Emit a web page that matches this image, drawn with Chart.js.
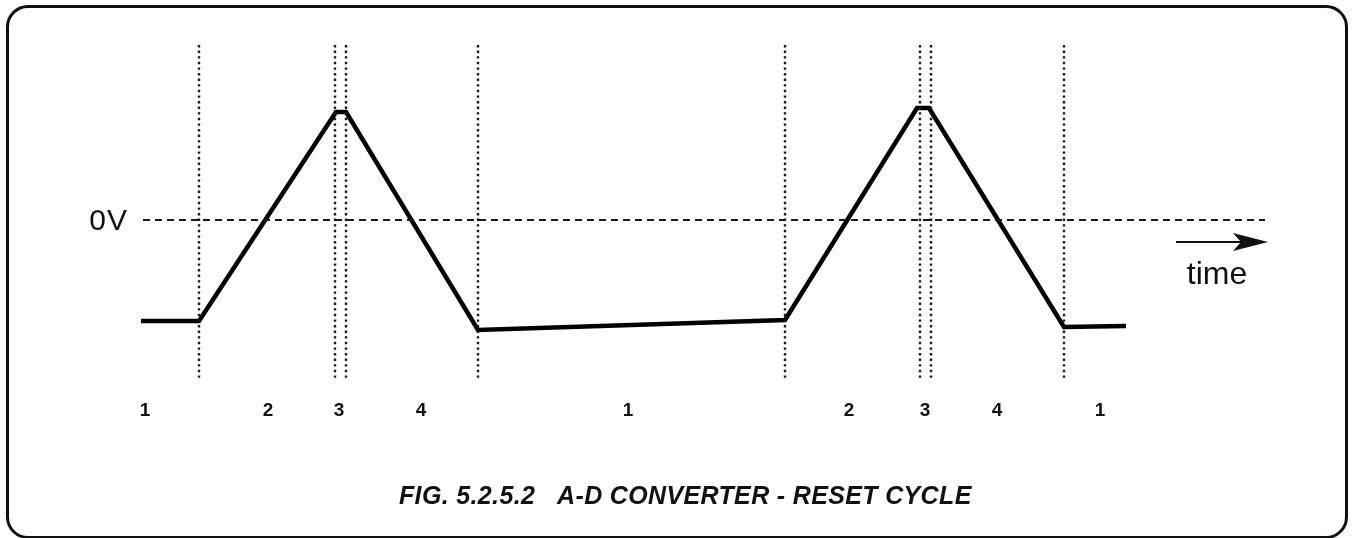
<!DOCTYPE html>
<html>
<head>
<meta charset="utf-8">
<title>A-D Converter - Reset Cycle</title>
<script src="https://cdn.jsdelivr.net/npm/chart.js@4"></script>
<style>
  html, body { margin: 0; padding: 0; background: #fff; }
  #wrap { position: relative; width: 1352px; height: 538px; overflow: hidden; }
  #frame {
    position: absolute; left: 6px; top: 5px; width: 1336px; height: 528px;
    border: 3px solid #111; border-radius: 22px;
  }
  #myChart { position: absolute; left: 0; top: 0; }
</style>
</head>
<body>
<div id="wrap">
  <div id="frame"></div>
  <canvas id="myChart" width="1352" height="538"></canvas>
</div>
<script>
(() => {
  'use strict'

  // integrator output over one and a half reset cycles (time units, volts)
  const waveT = [0, 5.8, 19.5, 20.5, 33.7, 64.4, 77.6, 78.8, 92.3, 98.5]
  const waveV = [-2.02, -2.02, 2.16, 2.16, -2.2, -2.0, 2.24, 2.24, -2.14, -2.12]

  // phase boundaries (dotted markers)
  const phaseEdges = [5.8, 19.4, 20.5, 33.7, 64.4, 77.9, 79.0, 92.3]
  const markerTop = 3.5
  const markerBottom = -3.2

  // phase numbers along the bottom
  const phaseLabels = ['1', '2', '3', '4', '1', '2', '3', '4', '1']
  const phaseLabelT = [0.4, 12.7, 19.8, 28.0, 48.7, 70.8, 78.4, 85.6, 95.9]
  const phaseLabelV = -3.82

  // 0V reference line
  const zeroLineT = [0.2, 112.4]

  const caption = 'FIG. 5.2.5.2   A-D CONVERTER - RESET CYCLE'

  const datasets = []

  phaseEdges.forEach(t => {
    datasets.push({
      data: [{ x: t, y: markerTop }, { x: t, y: markerBottom }],
      borderColor: '#1a1a1a',
      borderWidth: 2.4,
      borderDash: [2.4, 3.2],
      pointRadius: 0
    })
  })

  datasets.push({
    data: zeroLineT.map(t => ({ x: t, y: 0 })),
    borderColor: '#1a1a1a',
    borderWidth: 1.8,
    borderDash: [7, 5],
    pointRadius: 0
  })

  datasets.push({
    data: waveT.map((t, i) => ({ x: t, y: waveV[i] })),
    borderColor: '#000',
    borderWidth: 4.5,
    borderJoinStyle: 'miter',
    lineTension: 0,
    pointRadius: 0
  })

  const annotations = {
    id: 'annotations',
    afterDraw(chart) {
      const { ctx, scales: { x, y } } = chart
      ctx.save()
      ctx.fillStyle = '#111'
      ctx.strokeStyle = '#111'

      // phase numbers
      ctx.font = 'bold 19px "Liberation Sans", Arial, sans-serif'
      ctx.textAlign = 'center'
      ctx.textBaseline = 'middle'
      phaseLabels.forEach((s, i) => {
        ctx.fillText(s, x.getPixelForValue(phaseLabelT[i]), y.getPixelForValue(phaseLabelV))
      })

      // 0V label
      ctx.font = '30px "Liberation Sans", Arial, sans-serif'
      ctx.letterSpacing = '1px'
      ctx.textAlign = 'right'
      ctx.fillText('0V', x.getPixelForValue(-1.3), y.getPixelForValue(0) + 2)
      ctx.letterSpacing = '0px'

      // time arrow
      const ay = y.getPixelForValue(-0.44)
      const ax0 = x.getPixelForValue(103.5)
      const ax1 = x.getPixelForValue(112.7)
      ctx.lineWidth = 2
      ctx.beginPath()
      ctx.moveTo(ax0, ay)
      ctx.lineTo(ax1 - 20, ay)
      ctx.stroke()
      ctx.beginPath()
      ctx.moveTo(ax1, ay)
      ctx.lineTo(ax1 - 35, ay - 9)
      ctx.lineTo(ax1 - 27, ay)
      ctx.lineTo(ax1 - 35, ay + 9)
      ctx.closePath()
      ctx.fill()
      ctx.font = '32px "Liberation Sans", Arial, sans-serif'
      ctx.textAlign = 'center'
      ctx.fillText('time', x.getPixelForValue(107.6), y.getPixelForValue(-1.1))

      // caption
      ctx.font = 'italic bold 25px "Liberation Sans", Arial, sans-serif'
      ctx.letterSpacing = '0.35px'
      ctx.textAlign = 'left'
      ctx.fillText(caption, x.getPixelForValue(25.8), y.getPixelForValue(-5.54))
      ctx.restore()
    }
  }

  const ctx = document.getElementById('myChart')
  // eslint-disable-next-line no-unused-vars
  const myChart = new Chart(ctx, {
    type: 'line',
    data: { datasets },
    options: {
      responsive: false,
      animation: false,
      layout: { padding: 0 },
      scales: {
        x: { type: 'linear', min: -14.1, max: 121.1, display: false },
        y: { type: 'linear', min: -6.36, max: 4.4, display: false }
      },
      plugins: {
        legend: { display: false },
        tooltip: { enabled: false }
      }
    },
    plugins: [annotations]
  })
})()
</script>
</body>
</html>
